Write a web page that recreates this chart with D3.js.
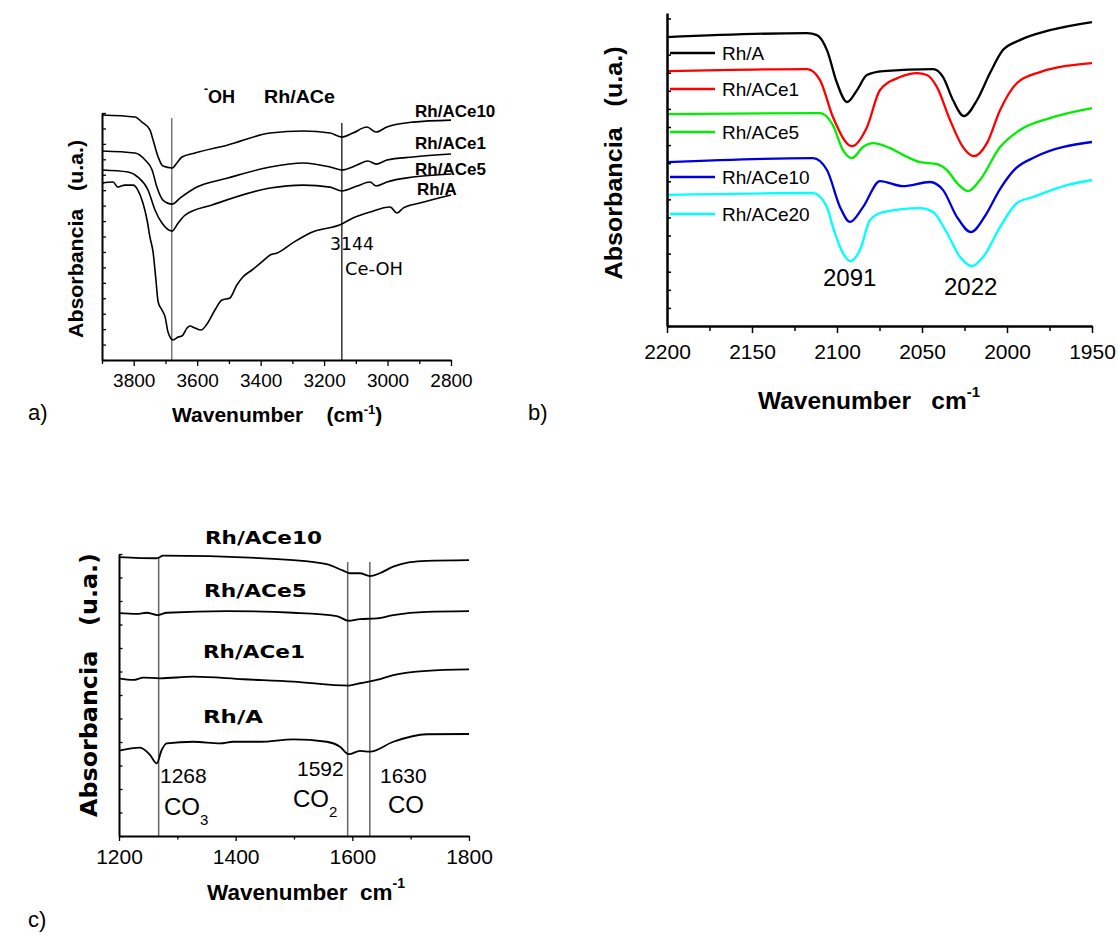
<!DOCTYPE html>
<html><head><meta charset="utf-8">
<script src="https://cdn.jsdelivr.net/npm/d3@7"></script>
<style>
body{margin:0;background:#fff;}
text{white-space:pre;}
</style></head>
<body>
<script>
// ---------------- Panel a data (OH region) ----------------
const aTickLabels = [3800, 3600, 3400, 3200, 3000, 2800];
const aMinorTicks = [3900, 3700, 3500, 3300, 3100, 2900];
const aSeriesNames = ["Rh/ACe10", "Rh/ACe1", "Rh/ACe5", "Rh/A"];
const aWnACe10 = [3900,3796,3774,3749,3739,3723,3708,3679,3664,3648,3607,3503,3370,3266,3181,3144,3109,3065,3036,3002,2920,2800];
const aAbsACe10 = [15.87,15.74,15.41,14.90,14.25,13.15,12.56,12.44,12.76,13.15,13.41,13.93,14.70,14.83,14.70,14.44,14.70,15.09,14.77,15.09,15.41,15.54];
const aWnACe1 = [3900,3796,3764,3742,3727,3708,3679,3654,3607,3503,3370,3266,3181,3144,3096,3062,3036,3002,2920,2800];
const aAbsACe1 = [13.54,13.41,12.95,12.31,11.20,10.36,10.10,10.49,11.14,11.79,12.50,12.76,12.50,12.31,12.63,12.89,12.69,12.95,13.15,13.34];
const aWnACe5 = [3900,3818,3787,3755,3733,3711,3679,3660,3638,3553,3370,3266,3181,3144,3096,3055,3036,3002,2920,2800];
const aAbsACe5 = [12.31,12.18,11.85,11.01,9.72,8.87,8.35,8.87,9.39,10.04,11.14,11.33,11.20,10.95,11.27,11.53,11.27,11.53,11.85,12.05];
const aWnA = [3900,3865,3850,3828,3802,3787,3771,3758,3749,3739,3730,3723,3711,3701,3692,3676,3660,3648,3632,3623,3607,3588,3569,3544,3522,3497,3475,3456,3427,3396,3370,3348,3298,3244,3144,3109,3055,2992,2970,2951,2898,2800];
const aAbsA = [11.46,11.53,11.20,11.33,11.33,11.01,10.17,9.07,7.97,6.99,5.18,3.76,3.24,2.78,1.81,1.30,1.49,1.55,2.07,2.20,2.07,1.94,2.33,3.24,3.89,4.02,4.86,5.38,5.83,6.35,6.80,6.93,7.60,8.23,8.81,9.20,9.59,9.91,9.52,9.84,10.17,10.69];
const aMarkers = [3680, 3144];

// ---------------- Panel b data (CO region) ----------------
const bTickLabels = [2200, 2150, 2100, 2050, 2000, 1950];
const bMinorTicks = [2175, 2125, 2075, 2025, 1975];
const bSeriesNames = ["Rh/A", "Rh/ACe1", "Rh/ACe5", "Rh/ACe10", "Rh/ACe20"];
const bColors = ["#000000", "#ff0000", "#00ee00", "#0000dd", "#00ffff"];
const bWnA = [2200,2117.6,2111.8,2105.9,2100,2094.1,2088.2,2082.4,2072.9,2043.5,2037.6,2031.8,2025.3,2017.6,2010,2002.4,1992.4,1974.7,1950];
const bAbsA = [15.97,16.19,16.08,15.25,13.43,12.38,13.04,13.87,14.09,14.20,13.76,12.49,11.60,12.49,13.98,15.25,15.80,16.35,16.80];
const bWnACe1 = [2200,2117.6,2110,2102.4,2091.2,2082.4,2074.7,2062.9,2052.9,2047.1,2041.2,2033.5,2025.9,2019.4,2011.8,2004.1,1994.1,1980.6,1950];
const bAbsACe1 = [14.09,14.20,13.59,11.55,9.94,10.99,13.04,13.76,13.98,13.87,13.20,11.38,9.89,9.39,10.11,11.93,13.43,14.03,14.53];
const bWnACe5 = [2200,2110,2102.4,2096.5,2091.2,2084.7,2078.8,2068.8,2058.8,2051.2,2041.2,2035.3,2029.4,2022.9,2015.9,2004.1,1992.4,1974.7,1950];
const bAbsACe5 = [11.71,11.77,11.10,9.72,9.28,9.89,10.11,9.83,9.34,9.06,8.95,8.62,7.90,7.46,8.07,9.89,10.83,11.49,12.04];
const bWnACe10 = [2200,2114.1,2105.9,2098.2,2092.4,2084.7,2074.7,2061.2,2045.3,2037.6,2029.4,2021.2,2012.9,2004.1,1995.3,1983.5,1950];
const bAbsACe10 = [9.06,9.28,8.62,6.57,5.75,6.57,8.01,7.73,7.96,7.51,6.02,5.19,6.08,7.57,8.67,9.34,10.17];
const bWnACe20 = [2200,2114.1,2105.9,2102.4,2096.5,2092.4,2086.5,2080.6,2072.9,2051.2,2043.5,2035.3,2027.6,2020.6,2014.1,2004.1,1994.1,1984.7,1964.7,1950];
const bAbsACe20 = [7.24,7.35,6.57,5.47,4.03,3.59,4.20,5.86,6.30,6.52,6.30,5.14,3.81,3.31,3.81,5.47,6.80,7.13,7.79,8.07];
const bPeaks = ["2091", "2022"];

// ---------------- Panel c data (carbonate region) ----------------
const cTickLabels = [1200, 1400, 1600, 1800];
const cMinorTicks = [1300, 1500, 1700];
const cSeriesNames = ["Rh/ACe10", "Rh/ACe5", "Rh/ACe1", "Rh/A"];
const cWnACe10 = [1200,1264.6,1276,1498.8,1556,1584.5,1596,1613,1630,1647,1670,1699,1727.5,1800];
const cAbsACe10 = [11.87,11.82,11.93,11.74,11.57,11.29,11.18,11.18,11.06,11.18,11.46,11.65,11.71,11.74];
const cWnACe5 = [1200,1230.3,1247.5,1266.3,1281.8,1384.6,1498.8,1573.2,1593.8,1613.1,1641.8,1670.2,1727.5,1800];
const cAbsACe5 = [9.48,9.45,9.50,9.40,9.50,9.57,9.50,9.36,9.16,9.23,9.26,9.40,9.54,9.57];
const cWnACe1 = [1200,1224.5,1241.7,1270.3,1327.4,1413.1,1498.8,1593.8,1613.1,1641.8,1670.2,1727.5,1800];
const cAbsACe1 = [6.71,6.64,6.74,6.71,6.78,6.67,6.57,6.40,6.50,6.64,6.85,7.03,7.09];
const cWnA = [1200,1236,1253.1,1264.6,1273.2,1281.8,1327.4,1373.1,1395.9,1441.7,1498.8,1556,1578.9,1593.8,1613.1,1630.3,1670.2,1727.5,1800];
const cAbsA = [3.63,3.76,3.45,3.09,3.66,3.94,4.01,3.94,4.01,4.01,4.11,4.01,3.80,3.48,3.62,3.59,4.01,4.33,4.34];
const cMarkers = [1268, 1592, 1630];

// ---------------------------------------------------------
const W = 1118, H = 937;
const ARIAL = "Arial, 'Liberation Sans', sans-serif";
const VERD = "'DejaVu Sans', Verdana, sans-serif";
const svg = d3.select("body").append("svg").attr("width", W).attr("height", H)
  .style("font-family", ARIAL);

function zip(xs, ys) { return xs.map((x, i) => ({x, y: ys[i]})); }

function txt(x, y, s, o = {}) {
  const t = svg.append("text").attr("x", x).attr("y", y).text(s)
    .attr("font-family", o.family || ARIAL)
    .attr("font-size", o.size || 16)
    .attr("font-weight", o.weight || "normal")
    .attr("text-anchor", o.anchor || "start")
    .attr("fill", o.fill || "#000");
  if (o.len) t.attr("textLength", o.len).attr("lengthAdjust", "spacingAndGlyphs");
  return t;
}

function drawAxes(g, x, y, o) {
  const xa = g.append("g").attr("transform", `translate(0,${y.range()[0]})`)
    .call(d3.axisBottom(x).tickValues(o.xMajor).tickFormat(d3.format("d")).tickSize(o.tMaj).tickSizeOuter(0).tickPadding(o.pad));
  xa.selectAll("text").attr("font-family", ARIAL).attr("font-size", o.tickFont).attr("fill", "#000");
  const xm = g.append("g").attr("transform", `translate(0,${y.range()[0]})`)
    .call(d3.axisBottom(x).tickValues(o.xMinor).tickSize(o.tMin).tickSizeOuter(0).tickFormat(""));
  xm.select(".domain").remove();
  const ya = g.append("g").attr("transform", `translate(${x.range()[0]},0)`)
    .call(d3.axisLeft(y).tickValues(o.yTicks).tickSize(-o.tY).tickSizeOuter(0).tickFormat(""));
  [xa, xm, ya].forEach(a => {
    a.selectAll("path,line").attr("stroke", "#000");
    a.selectAll(".tick line").attr("stroke-width", o.tickW);
    a.select(".domain").attr("stroke-width", o.axisW);
  });
}

// ================= Panel a =================
{
  const g = svg.append("g");
  const x = d3.scaleLinear().domain([3900, 2800]).range([102, 451]);
  const y = d3.scaleLinear().domain([0, 16]).range([360, 113]);
  g.selectAll("line.mk").data(aMarkers).join("line")
    .attr("x1", d => x(d)).attr("x2", d => x(d))
    .attr("y1", (d, i) => i === 0 ? 118 : 123).attr("y2", y(0))
    .attr("stroke", (d, i) => i === 0 ? "#555" : "#000").attr("stroke-width", 1.2);
  const series = [zip(aWnACe10, aAbsACe10), zip(aWnACe1, aAbsACe1), zip(aWnACe5, aAbsACe5), zip(aWnA, aAbsA)];
  const line = d3.line().x(d => x(d.x)).y(d => y(d.y)).curve(d3.curveMonotoneX);
  g.selectAll("path.s").data(series).join("path").attr("d", line)
    .attr("fill", "none").attr("stroke", "#000").attr("stroke-width", 1.6);
  drawAxes(g, x, y, {xMajor: aTickLabels, xMinor: aMinorTicks, tMaj: 6, tMin: 4, pad: 7.5,
    tickFont: 19, yTicks: d3.range(0, 17), tY: 4, tickW: 1.3, axisW: 2});
  const ly = [117, 149, 175, 195];
  const lx = [415, 415, 415, 417];
  aSeriesNames.forEach((n, i) => txt(lx[i], ly[i], n, {size: 17, weight: "bold"}));
  txt(204, 93, "-", {size: 12, weight: "bold"});
  txt(208, 103, "OH", {size: 18, weight: "bold"});
  txt(264, 103, "Rh/ACe", {size: 19, weight: "bold", len: 71});
  txt(330, 250, "3144", {size: 17, family: VERD, len: 44});
  txt(345, 275, "Ce-OH", {size: 17, family: VERD, len: 58});
  const xt = txt(172, 422, "Wavenumber    (cm", {size: 21, weight: "bold"});
  xt.append("tspan").attr("dy", -8).attr("font-size", 13).text("-1");
  xt.append("tspan").attr("dy", 8).text(")");
  txt(0, 0, "Absorbancia   (u.a.)", {size: 20, weight: "bold", anchor: "middle", len: 198})
    .attr("transform", "translate(83,239) rotate(-90)");
  txt(28, 420, "a)", {size: 22});
}

// ================= Panel b =================
{
  const g = svg.append("g");
  const x = d3.scaleLinear().domain([2200, 1950]).range([667, 1092]);
  const y = d3.scaleLinear().domain([0, 17.3]).range([326, 13]);
  const series = [zip(bWnA, bAbsA), zip(bWnACe1, bAbsACe1), zip(bWnACe5, bAbsACe5), zip(bWnACe10, bAbsACe10), zip(bWnACe20, bAbsACe20)];
  const line = d3.line().x(d => x(d.x)).y(d => y(d.y)).curve(d3.curveMonotoneX);
  g.selectAll("path.s").data(series).join("path").attr("d", line)
    .attr("fill", "none").attr("stroke", (d, i) => bColors[i]).attr("stroke-width", 2.3);
  drawAxes(g, x, y, {xMajor: bTickLabels, xMinor: bMinorTicks, tMaj: 7, tMin: 5, pad: 11,
    tickFont: 21, yTicks: d3.range(0, 18), tY: 4, tickW: 1.5, axisW: 2.5});
  const legY = [53, 89, 132, 177, 214];
  bSeriesNames.forEach((n, i) => {
    g.append("line").attr("x1", 670).attr("x2", 715).attr("y1", legY[i]).attr("y2", legY[i])
      .attr("stroke", bColors[i]).attr("stroke-width", 2.3);
    txt(722, legY[i] + 7, n, {size: 19});
  });
  txt(823, 286, bPeaks[0], {size: 24});
  txt(944, 295, bPeaks[1], {size: 24});
  const xt = txt(758, 409, "Wavenumber   cm", {size: 24.5, weight: "bold"});
  xt.append("tspan").attr("dy", -12).attr("font-size", 15).text("-1");
  txt(0, 0, "Absorbancia   (u.a.)", {size: 24, weight: "bold", anchor: "middle", len: 233})
    .attr("transform", "translate(622,163) rotate(-90)");
  txt(528, 420, "b)", {size: 22});
}

// ================= Panel c =================
{
  const g = svg.append("g");
  const x = d3.scaleLinear().domain([1200, 1800]).range([119, 469]);
  const y = d3.scaleLinear().domain([0, 12]).range([836, 554]);
  g.selectAll("line.mk").data(cMarkers).join("line")
    .attr("x1", d => x(d)).attr("x2", d => x(d))
    .attr("y1", (d, i) => i === 0 ? 557 : 562).attr("y2", y(0))
    .attr("stroke", "#666").attr("stroke-width", 1.5);
  const series = [zip(cWnACe10, cAbsACe10), zip(cWnACe5, cAbsACe5), zip(cWnACe1, cAbsACe1), zip(cWnA, cAbsA)];
  const line = d3.line().x(d => x(d.x)).y(d => y(d.y)).curve(d3.curveMonotoneX);
  g.selectAll("path.s").data(series).join("path").attr("d", line)
    .attr("fill", "none").attr("stroke", "#000").attr("stroke-width", 1.8);
  drawAxes(g, x, y, {xMajor: cTickLabels, xMinor: cMinorTicks, tMaj: 5, tMin: 3.5, pad: 8,
    tickFont: 21, yTicks: d3.range(0, 13), tY: 3.5, tickW: 1.3, axisW: 2});
  const lab = [[205, 544, 117], [204, 597, 103], [203, 658, 102], [203, 723, 60]];
  cSeriesNames.forEach((n, i) => txt(lab[i][0], lab[i][1], n, {size: 18.5, weight: "bold", family: VERD, len: lab[i][2]}));
  txt(160, 783, String(cMarkers[0]), {size: 21});
  const co3 = txt(164, 815, "CO", {size: 24});
  co3.append("tspan").attr("dy", 10).attr("font-size", 15).text("3");
  txt(297, 776, String(cMarkers[1]), {size: 21});
  const co2 = txt(293, 807, "CO", {size: 24});
  co2.append("tspan").attr("dy", 10).attr("font-size", 15).text("2");
  txt(380, 783, String(cMarkers[2]), {size: 21});
  txt(388, 813, "CO", {size: 24});
  const xt = txt(207, 900, "Wavenumber  cm", {size: 22.5, weight: "bold"});
  xt.append("tspan").attr("dy", -12).attr("font-size", 14).text("-1");
  txt(0, 0, "Absorbancia   (u.a.)", {size: 23, weight: "bold", family: VERD, anchor: "middle", len: 264})
    .attr("transform", "translate(97,685) rotate(-90)");
  txt(28, 927, "c)", {size: 22});
}
</script>
</body></html>
